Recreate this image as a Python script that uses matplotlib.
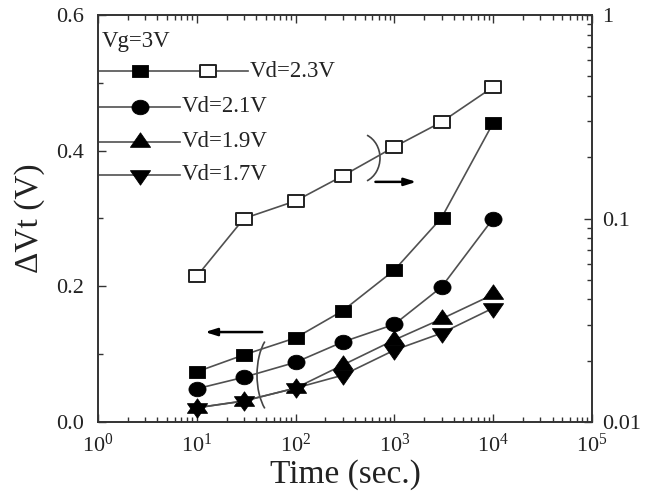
import numpy as np
import matplotlib
matplotlib.use("Agg")
import matplotlib.pyplot as plt
from matplotlib.path import Path
from matplotlib.patches import Arc
from matplotlib.ticker import FixedLocator, FixedFormatter, LogLocator, NullFormatter, MultipleLocator

plt.rcParams['font.family'] = ['Liberation Serif', 'DejaVu Serif']
plt.rcParams['mathtext.fontset'] = 'custom'
plt.rcParams['mathtext.rm'] = 'Liberation Serif'
plt.rcParams['mathtext.it'] = 'Liberation Serif:italic'

# ---------------- data ----------------
time_s = [10, 30, 100, 300, 1000, 3000, 10000]
dvt_vd23 = [0.074, 0.099, 0.124, 0.164, 0.224, 0.301, 0.441]
dvt_vd21 = [0.049, 0.066, 0.088, 0.118, 0.144, 0.199, 0.300]
dvt_vd19 = [0.021, 0.031, 0.050, 0.084, 0.121, 0.152, 0.188]
dvt_vd17 = [0.021, 0.031, 0.050, 0.069, 0.106, 0.131, 0.168]
right_vd23 = [0.052, 0.100, 0.122, 0.162, 0.225, 0.298, 0.443]

x_ticks = [1, 10, 100, 1000, 10000, 100000]
x_tick_labels = [r"$10^{0}$", r"$10^{1}$", r"$10^{2}$", r"$10^{3}$", r"$10^{4}$", r"$10^{5}$"]
left_ticks = [0.0, 0.2, 0.4, 0.6]
left_tick_labels = ["0.0", "0.2", "0.4", "0.6"]
right_ticks = [0.01, 0.1, 1]
right_tick_labels = ["0.01", "0.1", "1"]
gate_label = "Vg=3V"
legend_labels = ["Vd=2.3V", "Vd=2.1V", "Vd=1.9V", "Vd=1.7V"]
x_label = "Time (sec.)"
y_label = "ΔVt (V)"

# ---------------- markers (slightly wide, like the scanned original) ----------------
sq = Path([(-1, -0.8), (1, -0.8), (1, 0.8), (-1, 0.8), (-1, -0.8)], closed=True)
circ = Path.unit_circle()
ell = Path(circ.vertices * np.array([1.0, 0.85]), circ.codes)
tri_up = Path([(0, 0.96), (-1, -0.48), (1, -0.48), (0, 0.96)], closed=True)
tri_dn = Path([(0, -0.96), (-1, 0.48), (1, 0.48), (0, -0.96)], closed=True)

line_col = '#505050'
lw = 1.2
txt_col = '#222222'

fig = plt.figure(figsize=(6.48, 4.97), dpi=100)
ax = fig.add_axes([98 / 648, 1 - 422 / 497, 494 / 648, 407 / 497])
ax2 = ax.twinx()

ax.set_xscale('log')
ax.set_xlim(1, 1e5)
ax.set_ylim(0, 0.6)
ax2.set_yscale('log')
ax2.set_ylim(0.01, 1)

ms_sq, ms_c, ms_t = 11.5, 12.3, 14.5
ax.plot(time_s, dvt_vd23, color=line_col, lw=lw, marker=sq, ms=ms_sq, mfc='k', mec='k', mew=0.6, zorder=3)
ax.plot(time_s, dvt_vd21, color=line_col, lw=lw, marker=ell, ms=ms_c, mfc='k', mec='k', mew=0.6, zorder=3)
ax.plot(time_s, dvt_vd19, color=line_col, lw=lw, marker=tri_up, ms=ms_t, mfc='k', mec='k', mew=0.6, zorder=3)
ax.plot(time_s, dvt_vd17, color=line_col, lw=lw, marker=tri_dn, ms=ms_t, mfc='k', mec='k', mew=0.6, zorder=3)
ax2.plot(time_s, right_vd23, color=line_col, lw=lw, marker=sq, ms=ms_sq, mfc='white', mec='#222222', mew=1.4, zorder=3)

# ---------------- axes styling ----------------
for a in (ax, ax2):
    for s in a.spines.values():
        s.set_linewidth(1.2)
        s.set_color('#333333')

ax.xaxis.set_major_locator(FixedLocator(x_ticks))
ax.xaxis.set_major_formatter(FixedFormatter(x_tick_labels))
ax.xaxis.set_minor_locator(LogLocator(base=10, subs=np.arange(2, 10), numticks=20))
ax.xaxis.set_minor_formatter(NullFormatter())
ax.yaxis.set_major_locator(FixedLocator(left_ticks))
ax.yaxis.set_major_formatter(FixedFormatter(left_tick_labels))
ax.yaxis.set_minor_locator(MultipleLocator(0.1))

ax2.yaxis.set_major_locator(FixedLocator(right_ticks))
ax2.yaxis.set_major_formatter(FixedFormatter(right_tick_labels))
ax2.yaxis.set_minor_locator(LogLocator(base=10, subs=np.arange(2, 10), numticks=20))
ax2.yaxis.set_minor_formatter(NullFormatter())

ax.tick_params(axis='x', which='both', direction='in', top=True, bottom=True, colors='#333333',
               labelcolor=txt_col, labelsize=16, pad=8)
ax.tick_params(axis='y', which='both', direction='in', left=True, right=False, colors='#333333',
               labelcolor=txt_col, labelsize=16, pad=10)
ax2.tick_params(axis='y', which='both', direction='in', right=True, left=False, colors='#333333',
                labelcolor=txt_col, labelsize=16, pad=7)
for a, which_axis in ((ax, 'both'), (ax2, 'y')):
    a.tick_params(axis=which_axis, which='major', length=6, width=1.0)
    a.tick_params(axis=which_axis, which='minor', length=3.5, width=1.0)

ax.set_xlabel(x_label, fontsize=24, color=txt_col, labelpad=2)
ax.set_ylabel(y_label, fontsize=24, color=txt_col, labelpad=8)

# ---------------- hand-drawn legend (axes fraction) ----------------
T = ax.transAxes
ax.text(0.008, 0.934, gate_label, transform=T, fontsize=16.5, color=txt_col, va='center', ha='left')
rows_y = [0.862, 0.774, 0.688, 0.607]
legend_markers = [sq, ell, tri_up, tri_dn]
legend_ms = [ms_sq, ms_c, ms_t, ms_t]
# row 1: filled square + open square
ax.plot([0.0, 0.304], [rows_y[0]] * 2, color=line_col, lw=lw, transform=T, clip_on=False, zorder=4)
ax.plot([0.085], [rows_y[0]], marker=sq, ms=ms_sq, mfc='k', mec='k', mew=0.6, transform=T, zorder=5)
ax.plot([0.223], [rows_y[0]], marker=sq, ms=ms_sq, mfc='white', mec='#222222', mew=1.4, transform=T, zorder=5)
ax.text(0.308, rows_y[0], legend_labels[0], transform=T, fontsize=16.5, color=txt_col, va='center', ha='left')
for yy, mk, m_s, lab in zip(rows_y[1:], legend_markers[1:], legend_ms[1:], legend_labels[1:]):
    ax.plot([0.0, 0.166], [yy, yy], color=line_col, lw=lw, transform=T, clip_on=False, zorder=4)
    ax.plot([0.085], [yy], marker=mk, ms=m_s, mfc='k', mec='k', mew=0.6, transform=T, zorder=5)
    ax.text(0.170, yy, lab, transform=T, fontsize=16.5, color=txt_col, va='center', ha='left')

# ---------------- axis-indicating arrows and brackets ----------------
ax.annotate('', xy=(0.211, 0.221), xytext=(0.338, 0.221), xycoords=T, textcoords=T,
            arrowprops=dict(arrowstyle='-|>,head_length=0.7,head_width=0.22', color='k', lw=1.8))
ax.add_patch(Arc((0.3644, 0.1155), 0.085, 0.2113, theta1=108, theta2=252, transform=T,
                 color='#444444', lw=1.2))
ax.annotate('', xy=(0.650, 0.590), xytext=(0.556, 0.590), xycoords=T, textcoords=T,
            arrowprops=dict(arrowstyle='-|>,head_length=0.7,head_width=0.22', color='k', lw=1.8))
ax.add_patch(Arc((0.5263, 0.6486), 0.0891, 0.1229, theta1=-72, theta2=72, transform=T,
                 color='#444444', lw=1.2))

fig.savefig('out.png', dpi=100)
